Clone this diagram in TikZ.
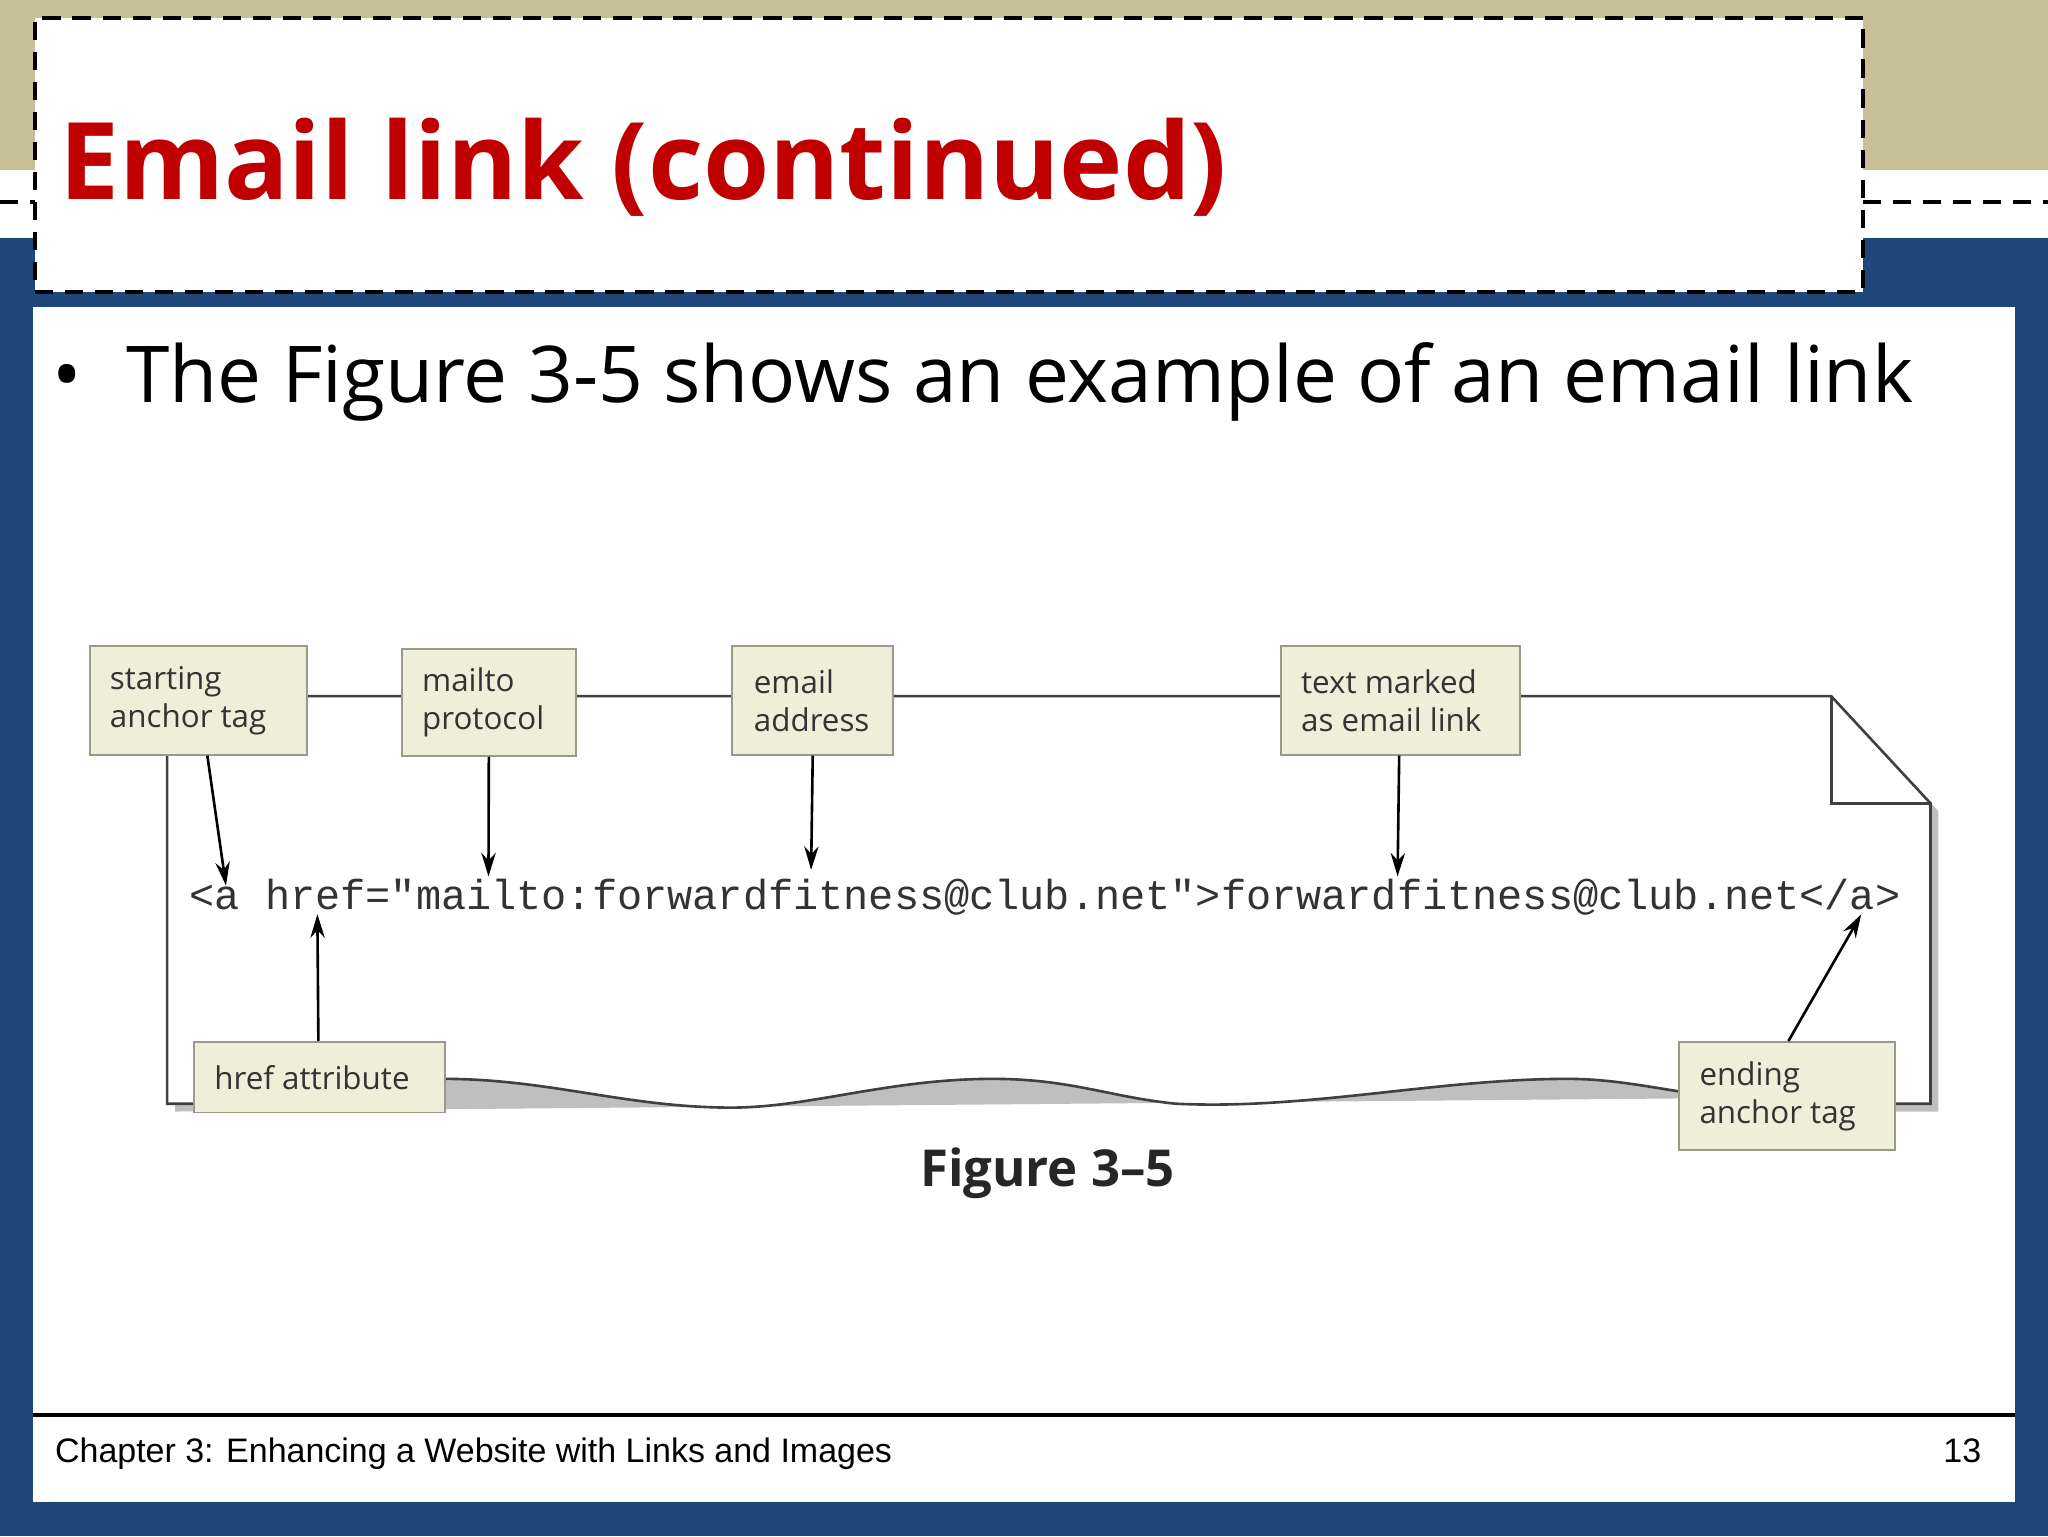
\documentclass[tikz,border=0pt]{standalone}
\usepackage{fontspec}
\setmainfont{Open Sans}
\newfontfamily\lsans{Liberation Sans}
\newfontfamily\cmono{Liberation Mono}
\usetikzlibrary{calc,arrows.meta}
\definecolor{tan}{HTML}{C6BF98}
\definecolor{navy}{HTML}{1F477A}
\definecolor{titred}{HTML}{C00000}
\definecolor{boxfill}{HTML}{EEEED9}
\definecolor{boxline}{HTML}{9A9A8A}
\tikzset{
 lbl/.style={draw=boxline,line width=1.5pt,fill=boxfill,anchor=north west,inner sep=0pt,align=left,font=\fontsize{24}{29}\selectfont,text=black!80},
 lbltext/.style={anchor=west,inner sep=0pt,align=left,font=\fontsize{24}{29}\selectfont,text=black!80},
 arr/.style={line width=2pt,-{Stealth[length=18pt,width=11pt]}},
}
\begin{document}
\begin{tikzpicture}[x=1pt,y=-1pt]
\useasboundingbox (0,0) rectangle (1568,1176);
\fill[navy] (0,0) rectangle (1568,1176);
\fill[tan] (0,0) rectangle (1568,130);
\fill[white] (0,130) rectangle (1568,182);
\draw[line width=3pt,dash pattern=on 14pt off 9pt] (0,155) -- (1568,155);
\fill[white] (25,235) rectangle (1543,1150);
\draw[line width=3pt] (25,1083) -- (1543,1083);
% title box
\node[draw,line width=3pt,dash pattern=on 14pt off 9pt,fill=white,minimum width=1400pt,minimum height=210pt,anchor=north west,inner sep=0pt] (tbox) at (25,12) {};
\node[anchor=base west,inner sep=0pt,text=titred,font=\fontsize{82}{90}\selectfont\bfseries] (title) at (45,153) {Email link (continued)};
\node[anchor=base west,inner sep=0pt,font=\fontsize{60}{70}\selectfont] (bul) at (40,308) {\textbullet\hspace{34pt}The Figure 3-5 shows an example of an email link};
% paper
\begin{scope}[line width=2pt,draw=black!75]
\fill[black!25] (134,539) -- (1408,539) -- (1484,621) -- (1484,851) -- (1400,851) -- (1400,840) -- (134,851) -- cycle;
\draw[fill=white] (128,533) -- (1402,533) -- (1478,615) -- (1478,845) -- (1400,845)
 .. controls (1300,845) and (1260,826) .. (1200,826)
 .. controls (1100,826) and (1000,850) .. (900,845)
 .. controls (850,840) and (820,826) .. (760,826)
 .. controls (680,826) and (620,848) .. (560,848)
 .. controls (480,848) and (420,826) .. (340,826)
 -- (148,845) -- (128,845) -- cycle;
\draw (1402,533) -- (1402,615) -- (1478,615);
\end{scope}
% labels
\node[lbl,minimum width=166pt,minimum height=83pt] (sa) at (68,494) {};
\node[lbltext] at ($(sa.west)+(16,0)$) {starting\\anchor tag};
\node[lbl,minimum width=133pt,minimum height=82pt] (mp) at (307,496) {};
\node[lbltext] at ($(mp.west)+(16,0)$) {mailto\\protocol};
\node[lbl,minimum width=123pt,minimum height=83pt] (ea) at (560,494) {};
\node[lbltext] at ($(ea.west)+(17,0)$) {email\\address};
\node[lbl,minimum width=183pt,minimum height=83pt] (tm) at (980,494) {};
\node[lbltext] at ($(tm.west)+(16,0)$) {text marked\\as email link};
\node[lbl,minimum width=192pt,minimum height=54pt] (ha) at (148,797) {};
\node[lbltext] at ($(ha.west)+(16,0)$) {href attribute};
\node[lbl,minimum width=165pt,minimum height=83pt] (et) at (1285,797) {};
\node[lbltext] at ($(et.west)+(16,0)$) {ending\\anchor tag};
% code
\node[anchor=base west,inner sep=0pt,font=\cmono\fontsize{32.1}{34}\selectfont,text=black!80] (code) at (145,696) {<a href="mailto:forwardfitness@club.net">forwardfitness@club.net</a>};
\coordinate (t1) at (173,678);
\coordinate (t2) at (374,671);
\coordinate (t3) at (621,666);
\coordinate (t4) at (1070,671);
\coordinate (t5) at (243,700);
\coordinate (t6) at (1425,700);
\coordinate (s1) at ($(sa.south)+(7,0)$);
\coordinate (s2) at ($(mp.south)+(0,0)$);
\coordinate (s3) at ($(ea.south)+(0,0)$);
\coordinate (s4) at ($(tm.south)+(-1,0)$);
\coordinate (s5) at ($(ha.north)+(-1,0)$);
\coordinate (s6) at ($(et.north)+(1,0)$);
\draw[arr] (s1) -- (t1);
\draw[arr] (s2) -- (t2);
\draw[arr] (s3) -- (t3);
\draw[arr] (s4) -- (t4);
\draw[arr] (s5) -- (t5);
\draw[arr] (s6) -- (t6);
\node[inner sep=0pt,font=\fontsize{39}{42}\selectfont\bfseries,text=black!85] (fig) at (802,898) {Figure 3--5};
% footer
\node[anchor=base west,inner sep=0pt,font=\lsans\fontsize{26}{28}\selectfont] (foot) at (42,1120) {Chapter 3: Enhancing a Website with Links and Images};
\node[anchor=base east,inner sep=0pt,font=\lsans\fontsize{26}{28}\selectfont] (pg) at (1517,1120) {13};
\end{tikzpicture}
\end{document}
